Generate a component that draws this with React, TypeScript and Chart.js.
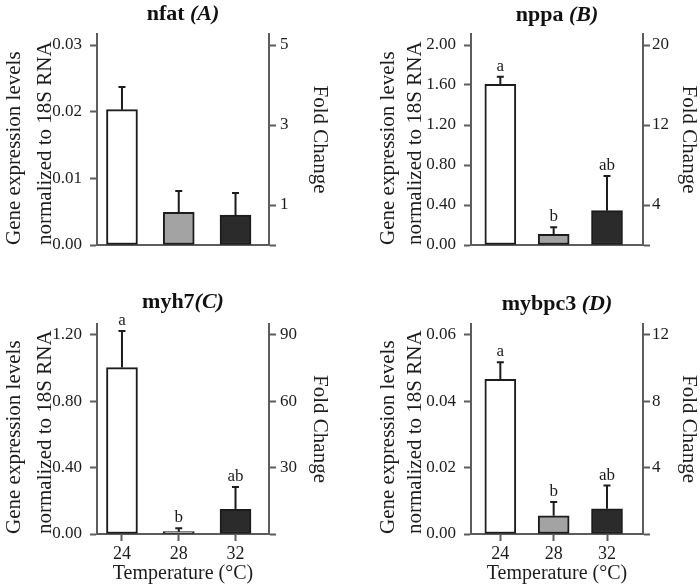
import React, { useEffect, useRef } from 'react';
import { Chart, registerables } from 'chart.js';

Chart.register(...registerables);

// ---------- data ----------
const temperatures = ['24', '28', '32'];
const barColors = ['#ffffff', '#a3a3a3', '#2b2b2b'];
const xTitle = 'Temperature (\u00B0C)';
const leftTitle = ['Gene expression levels', 'normalized to 18S RNA'];
const rightTitle = 'Fold Change';

const panelNames = ['nfat ', 'nppa ', 'myh7', 'mybpc3 '];
const panelTags = ['(A)', '(B)', '(C)', '(D)'];

const nfatMean = [0.0203, 0.0049, 0.0045];
const nfatSE = [0.0034, 0.0032, 0.0033];
const nfatLetters = ['', '', ''];
const nfatTicks = [0, 0.01, 0.02, 0.03];
const nfatTickLabels = ['0.00', '0.01', '0.02', '0.03'];
const nfatFoldTicks = [0, 1, 3, 5];
const nfatFoldLabels = ['', '1', '3', '5'];

const nppaMean = [1.607, 0.107, 0.343];
const nppaSE = [0.076, 0.07, 0.347];
const nppaLetters = ['a', 'b', 'ab'];
const nppaTicks = [0, 0.4, 0.8, 1.2, 1.6, 2.0];
const nppaTickLabels = ['0.00', '0.40', '0.80', '1.20', '1.60', '2.00'];
const nppaFoldTicks = [0, 4, 12, 20];
const nppaFoldLabels = ['', '4', '12', '20'];

const myh7Mean = [1.002, 0.014, 0.148];
const myh7SE = [0.221, 0.02, 0.135];
const myh7Letters = ['a', 'b', 'ab'];
const myh7Ticks = [0, 0.4, 0.8, 1.2];
const myh7TickLabels = ['0.00', '0.40', '0.80', '1.20'];
const myh7FoldTicks = [0, 30, 60, 90];
const myh7FoldLabels = ['', '30', '60', '90'];

const mybpc3Mean = [0.0466, 0.0055, 0.0076];
const mybpc3SE = [0.0051, 0.0041, 0.007];
const mybpc3Letters = ['a', 'b', 'ab'];
const mybpc3Ticks = [0, 0.02, 0.04, 0.06];
const mybpc3TickLabels = ['0.00', '0.02', '0.04', '0.06'];
const mybpc3FoldTicks = [0, 4, 8, 12];
const mybpc3FoldLabels = ['', '4', '8', '12'];

// ---------- style ----------
const FONT = "'Liberation Serif', 'Times New Roman', serif";
const AXIS = '#5c5c5c';
const INK = '#1c1c1c';

type Panel = {
  idx: number;
  mean: number[];
  se: number[];
  letters: string[];
  ticks: number[];
  tickLabels: string[];
  foldTicks: number[];
  foldLabels: string[];
  yMax: number;
  foldMax: number;
  left: number;
  top: number;
  w: number;
  h: number;
  areaLeft: number;
  areaRight: number;
  areaTop: number;
  areaBottom: number;
  xMin: number;
  xMax: number;
  leftLH: number;
  leftPad: number;
  rightPad: number;
  rightTickPad: number;
  titleBase: number;
  showX: boolean;
};

const panels: Panel[] = [
  {
    idx: 0, mean: nfatMean, se: nfatSE, letters: nfatLetters,
    ticks: nfatTicks, tickLabels: nfatTickLabels, foldTicks: nfatFoldTicks, foldLabels: nfatFoldLabels,
    yMax: 0.03165, foldMax: 5.275,
    left: 0, top: 0, w: 350, h: 290, areaLeft: 97, areaRight: 269, areaTop: 34, areaBottom: 245,
    xMin: -0.44, xMax: 2.59, leftLH: 31, leftPad: -1.5, rightPad: 14.5, rightTickPad: 4, titleBase: 19.5, showX: false,
  },
  {
    idx: 1, mean: nppaMean, se: nppaSE, letters: nppaLetters,
    ticks: nppaTicks, tickLabels: nppaTickLabels, foldTicks: nppaFoldTicks, foldLabels: nppaFoldLabels,
    yMax: 2.11, foldMax: 21.1,
    left: 350, top: 0, w: 350, h: 290, areaLeft: 121, areaRight: 293, areaTop: 34, areaBottom: 245,
    xMin: -0.55, xMax: 2.675, leftLH: 27, leftPad: 24.8, rightPad: -4.5, rightTickPad: 2, titleBase: 21, showX: false,
  },
  {
    idx: 2, mean: myh7Mean, se: myh7SE, letters: myh7Letters,
    ticks: myh7Ticks, tickLabels: myh7TickLabels, foldTicks: myh7FoldTicks, foldLabels: myh7FoldLabels,
    yMax: 1.2644, foldMax: 94.83,
    left: 0, top: 290, w: 350, h: 296, areaLeft: 97, areaRight: 269, areaTop: 34, areaBottom: 244,
    xMin: -0.44, xMax: 2.59, leftLH: 31, leftPad: -1.5, rightPad: 14.5, rightTickPad: 4, titleBase: 18, showX: true,
  },
  {
    idx: 3, mean: mybpc3Mean, se: mybpc3SE, letters: mybpc3Letters,
    ticks: mybpc3Ticks, tickLabels: mybpc3TickLabels, foldTicks: mybpc3FoldTicks, foldLabels: mybpc3FoldLabels,
    yMax: 0.06322, foldMax: 12.644,
    left: 350, top: 290, w: 350, h: 296, areaLeft: 121, areaRight: 293, areaTop: 34, areaBottom: 244,
    xMin: -0.55, xMax: 2.675, leftLH: 27, leftPad: 24.8, rightPad: -4.5, rightTickPad: 2, titleBase: 19.5, showX: true,
  },
];

function PanelChart({ p }: { p: Panel }) {
  const ref = useRef<HTMLCanvasElement>(null);

  useEffect(() => {
    const canvas = ref.current;
    if (!canvas) return;

    const extras = {
      id: 'panelExtras',
      afterDatasetsDraw(chart: any) {
        const ctx = chart.ctx;
        const yScale = chart.scales.y;
        const meta = chart.getDatasetMeta(0);
        ctx.save();
        // error bars + letters
        meta.data.forEach((bar: any, i: number) => {
          const x = bar.x;
          const yTop = yScale.getPixelForValue(p.mean[i]);
          const yErr = yScale.getPixelForValue(p.mean[i] + p.se[i]);
          ctx.strokeStyle = INK;
          ctx.lineWidth = 2;
          ctx.beginPath();
          ctx.moveTo(x, yTop);
          ctx.lineTo(x, yErr);
          ctx.moveTo(x - 3.5, yErr);
          ctx.lineTo(x + 3.5, yErr);
          ctx.stroke();
          if (p.letters[i]) {
            ctx.fillStyle = INK;
            ctx.font = `17px ${FONT}`;
            ctx.textAlign = 'center';
            ctx.textBaseline = 'alphabetic';
            ctx.fillText(p.letters[i], x, yErr - 6);
          }
        });
        // panel title (bold + bold italic)
        const area = chart.chartArea;
        const cx = (area.left + area.right) / 2;
        const main = panelNames[p.idx];
        const tag = panelTags[p.idx];
        ctx.font = `bold 22px ${FONT}`;
        const w1 = ctx.measureText(main).width;
        ctx.font = `italic bold 22px ${FONT}`;
        const w2 = ctx.measureText(tag).width;
        const x0 = cx - (w1 + w2) / 2;
        ctx.fillStyle = '#111';
        ctx.textAlign = 'left';
        ctx.textBaseline = 'alphabetic';
        ctx.font = `bold 22px ${FONT}`;
        ctx.fillText(main, x0, p.titleBase);
        ctx.font = `italic bold 22px ${FONT}`;
        ctx.fillText(tag, x0 + w1, p.titleBase);
        ctx.restore();
      },
    };

    const tickGrid = {
      display: true,
      drawOnChartArea: false,
      drawTicks: true,
      offset: false,
      tickLength: 7,
      tickWidth: 2,
      tickColor: AXIS,
    };
    const border = { display: true, color: AXIS, width: 2 };

    const chart = new Chart(canvas, {
      type: 'bar',
      data: {
        datasets: [
          {
            data: p.mean.map((v, i) => ({ x: i, y: v })),
            backgroundColor: barColors,
            borderColor: INK,
            borderWidth: 2,
            barThickness: 31,
            borderSkipped: false,
            xAxisID: 'x',
            yAxisID: 'y',
          } as any,
        ],
      },
      options: {
        responsive: false,
        maintainAspectRatio: false,
        animation: false,
        devicePixelRatio: 1,
        layout: { padding: { top: p.areaTop, left: 0, right: 0, bottom: 0 } },
        plugins: {
          legend: { display: false },
          tooltip: { enabled: false },
          title: { display: false },
        },
        scales: {
          x: {
            type: 'linear',
            offset: false,
            min: p.xMin,
            max: p.xMax,
            afterBuildTicks: (s: any) => {
              s.ticks = temperatures.map((_, i) => ({ value: i }));
            },
            afterFit: (s: any) => {
              s.height = p.h - p.areaBottom;
            },
            grid: { ...tickGrid, display: p.showX },
            border,
            ticks: {
              display: p.showX,
              autoSkip: false,
              maxRotation: 0,
              padding: 2,
              color: INK,
              font: { family: FONT, size: 18 },
              callback: (v: any) => temperatures[v] ?? '',
            },
            title: {
              display: p.showX,
              text: xTitle,
              color: INK,
              font: { family: FONT, size: 20, lineHeight: '24px' },
              padding: { top: 0, bottom: 0 },
            },
          },
          y: {
            type: 'linear',
            position: 'left',
            min: 0,
            max: p.yMax,
            afterBuildTicks: (s: any) => {
              s.ticks = p.ticks.map((v) => ({ value: v }));
            },
            afterFit: (s: any) => {
              s.width = p.areaLeft;
            },
            grid: tickGrid,
            border,
            ticks: {
              autoSkip: false,
              padding: 8,
              color: INK,
              font: { family: FONT, size: 17 },
              callback: (_v: any, i: number) => p.tickLabels[i],
            },
            title: {
              display: true,
              text: leftTitle,
              align: 'start',
              color: INK,
              font: { family: FONT, size: 21, lineHeight: `${p.leftLH}px` },
              padding: { top: p.leftPad, bottom: 0 },
            },
          },
          y1: {
            type: 'linear',
            position: 'right',
            min: 0,
            max: p.foldMax,
            afterBuildTicks: (s: any) => {
              s.ticks = p.foldTicks.map((v) => ({ value: v }));
            },
            afterFit: (s: any) => {
              s.width = p.w - p.areaRight;
            },
            grid: tickGrid,
            border,
            ticks: {
              autoSkip: false,
              padding: p.rightTickPad,
              color: INK,
              font: { family: FONT, size: 17 },
              callback: (_v: any, i: number) => p.foldLabels[i],
            },
            title: {
              display: true,
              text: rightTitle,
              color: INK,
              font: { family: FONT, size: 21, lineHeight: '31px' },
              padding: { top: p.rightPad, bottom: 0 },
            },
          },
        },
      } as any,
      plugins: [extras],
    });

    return () => chart.destroy();
  }, [p]);

  return (
    <div style={{ position: 'absolute', left: p.left, top: p.top, width: p.w, height: p.h }}>
      <canvas ref={ref} width={p.w} height={p.h} style={{ width: p.w, height: p.h, display: 'block' }} />
    </div>
  );
}

export default function App() {
  return (
    <div style={{ position: 'absolute', left: 0, top: 0, width: 700, height: 586, background: '#ffffff' }}>
      {panels.map((p) => (
        <PanelChart key={p.idx} p={p} />
      ))}
    </div>
  );
}
